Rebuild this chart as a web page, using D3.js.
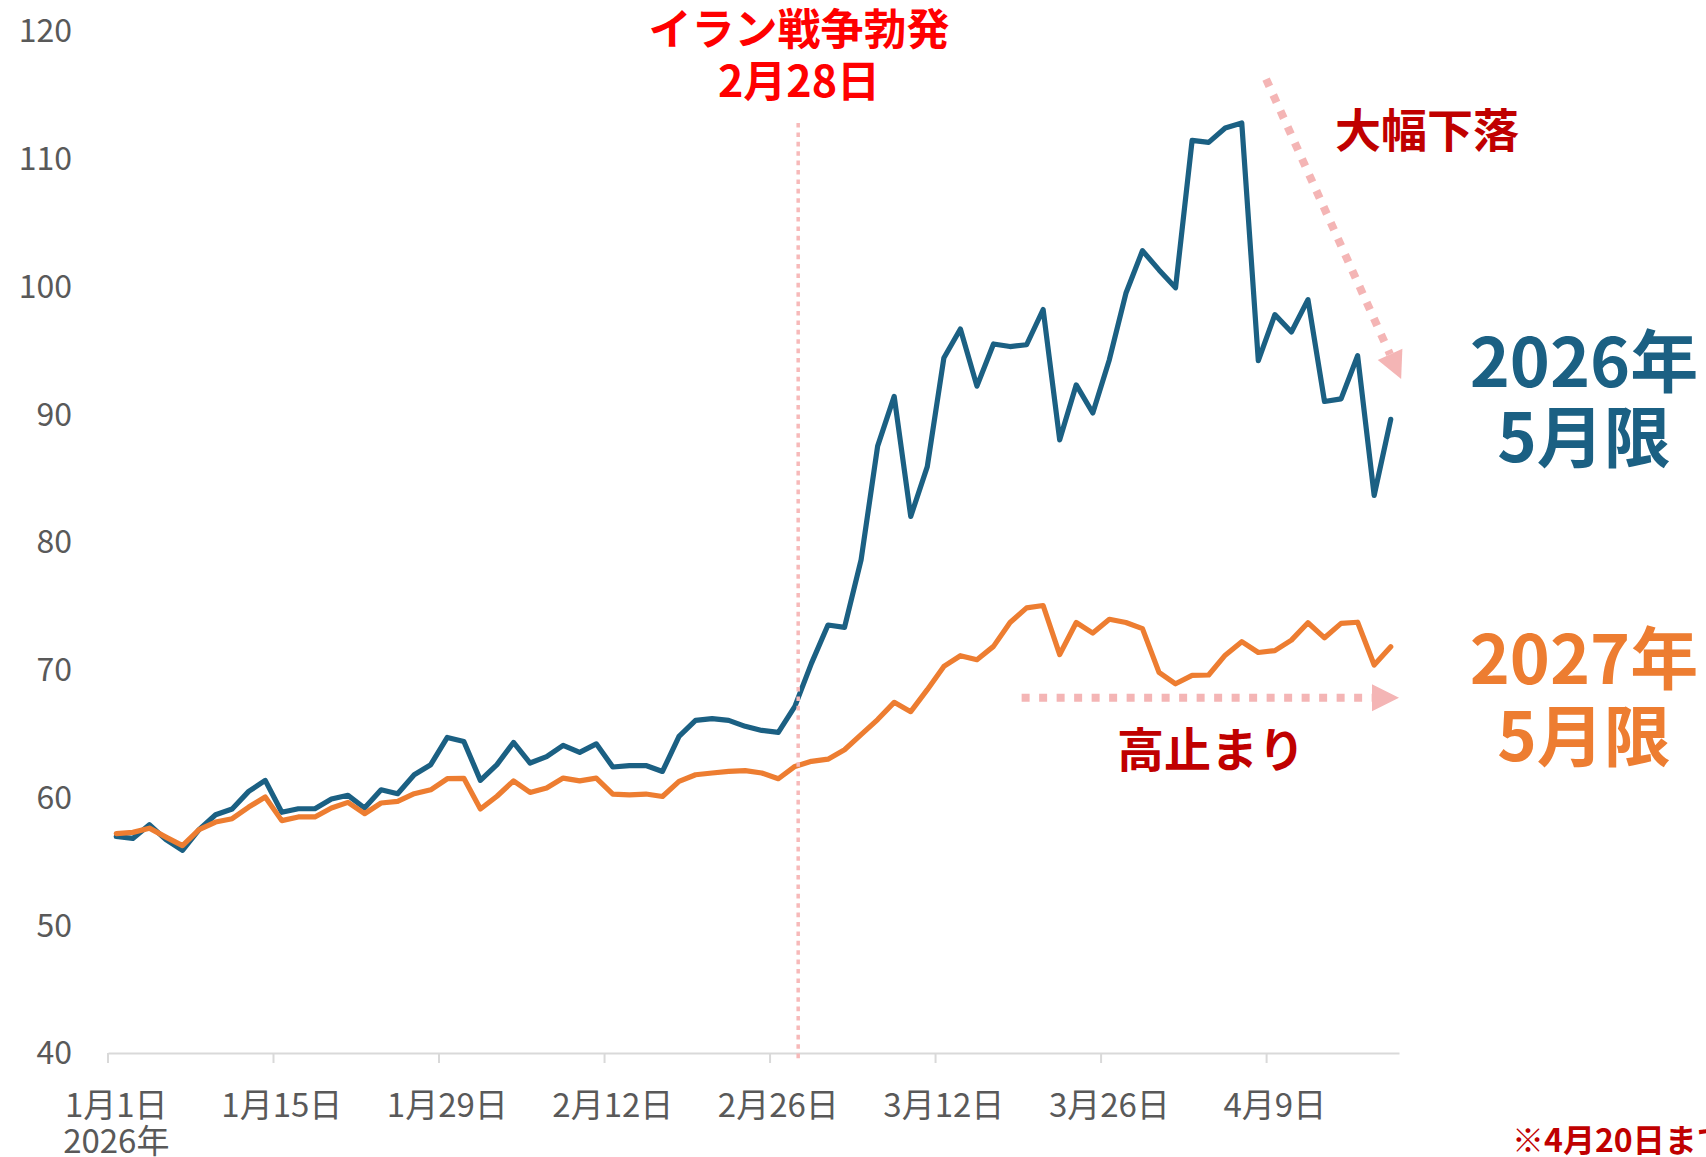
<!DOCTYPE html>
<html>
	<head>
		<meta charset="utf-8"/>
		<script src="https://d3js.org/d3.v7.min.js"></script>
		<style>
			body {
				margin: 0;
				background: #fff;
			}
			svg text {
				font-family: 'Noto Sans CJK JP', 'Noto Sans', sans-serif;
			}
			.tick text {
				fill: #595959;
			}
			.note {
				font-weight: bold;
			}
		</style>
	</head>
	<body>
		<div id="graph"></div>
		<script>
			// one value per weekday, 1/1 .. 4/20 (category axis, labels every 10 days)
			var tickIdx = [0, 10, 20, 30, 40, 50, 60, 70];
			var tickLabels = ['1月1日', '1月15日', '1月29日', '2月12日', '2月26日', '3月12日', '3月26日', '4月9日'];
			var yTicks = [40, 50, 60, 70, 80, 90, 100, 110, 120];

			// 2026年5月限
			var may2026 = [56.95, 56.8, 57.87, 56.7, 55.86, 57.48, 58.65, 59.1, 60.48, 61.34,
				58.84, 59.12, 59.12, 59.88, 60.17, 59.18, 60.6, 60.3, 61.78, 62.57,
				64.7, 64.39, 61.34, 62.57, 64.31, 62.7, 63.2, 64.08, 63.53, 64.2,
				62.39, 62.5, 62.5, 62.04, 64.78, 66.04, 66.17, 66.04, 65.57, 65.25,
				65.1, 67.13, 70.5, 73.5, 73.32, 78.6, 87.5, 91.4, 82.0, 85.9,
				94.4, 96.67, 92.2, 95.5, 95.3, 95.44, 98.2, 88.0, 92.3, 90.1,
				94.27, 99.47, 102.8, 101.3, 99.9, 111.44, 111.28, 112.4, 112.8, 94.19,
				97.8, 96.44, 98.97, 91.0, 91.2, 94.58, 83.65, 89.6];
			// 2027年5月限
			var may2027 = [57.17, 57.27, 57.6, 56.9, 56.23, 57.48, 58.08, 58.34, 59.25, 60.04,
				58.19, 58.48, 58.48, 59.18, 59.62, 58.73, 59.57, 59.7, 60.3, 60.6,
				61.47, 61.5, 59.1, 60.1, 61.3, 60.4, 60.74, 61.52, 61.3, 61.52,
				60.27, 60.2, 60.27, 60.08, 61.26, 61.78, 61.92, 62.04, 62.1, 61.92,
				61.47, 62.43, 62.83, 63.0, 63.74, 64.92, 66.1, 67.45, 66.72, 68.44,
				70.26, 71.1, 70.79, 71.83, 73.7, 74.84, 75.03, 71.19, 73.7, 72.87,
				73.95, 73.7, 73.22, 69.8, 68.9, 69.56, 69.59, 71.14, 72.2, 71.35,
				71.5, 72.32, 73.68, 72.5, 73.63, 73.72, 70.37, 71.8];

			var blue = '#1b6083', orange = '#ed7d31', pink = '#f4b5b5', darkred = '#c00000';
			var W = 1706, H = 1157;

			var svg = d3.select('#graph').append('svg')
				.attr('width', W)
				.attr('height', H);
			svg.append('rect').attr('width', W).attr('height', H).attr('fill', '#fff');

			var x = d3.scaleBand().domain(d3.range(may2026.length)).range([108, 1399]);
			var bw = x.bandwidth();
			// same axis in "category units", for the annotations
			var xu = d3.scaleLinear().domain([0, may2026.length]).range([108, 1399]);
			var y = d3.scaleLinear().domain([40, 120]).range([1053, 31]);

			// y axis: labels only
			svg.append('g')
				.attr('transform', 'translate(72,0)')
				.call(d3.axisLeft(y).tickValues(yTicks).tickSize(0).tickPadding(0))
				.call(g => g.select('.domain').remove())
				.selectAll('text')
					.attr('font-size', 32)
					.attr('dy', '0.34em');

			// x axis: tick marks on category borders, labels on category centres
			var gx = svg.append('g')
				.attr('transform', 'translate(0,' + y(40) + ')')
				.call(d3.axisBottom(x).tickValues(tickIdx).tickFormat((d, k) => tickLabels[k])
					.tickSize(10).tickSizeOuter(0).tickPadding(0));
			gx.select('.domain').attr('stroke', '#d9d9d9').attr('stroke-width', 2);
			gx.selectAll('.tick line')
				.attr('stroke', '#d9d9d9')
				.attr('stroke-width', 2)
				.attr('transform', 'translate(' + (-bw / 2) + ',0)');
			gx.selectAll('.tick text')
				.attr('font-size', 33)
				.attr('y', 64)
				.attr('dy', null);
			d3.select(gx.selectAll('.tick').nodes()[0]).append('text')
				.attr('font-size', 33)
				.attr('y', 100)
				.text('2026年');

			var line = d3.line()
				.x((d, i) => x(i) + bw / 2)
				.y(d => y(d));
			[[may2026, blue], [may2027, orange]].forEach(function([data, color]) {
				svg.append('path')
					.datum(data)
					.attr('d', line)
					.attr('fill', 'none')
					.attr('stroke', color)
					.attr('stroke-width', 5.2)
					.attr('stroke-linejoin', 'round')
					.attr('stroke-linecap', 'round');
			});

			// 2/28 marker
			svg.append('line')
				.attr('x1', xu(41.7)).attr('x2', xu(41.7))
				.attr('y1', y(112.8)).attr('y2', y(40) + 10)
				.attr('stroke', '#f7b9b9')
				.attr('stroke-width', 3.5)
				.attr('stroke-dasharray', '4.6 4.8');

			function arrow(from, to) {
				var p0 = [xu(from[0]), y(from[1])], p1 = [xu(to[0]), y(to[1])];
				var dx = p1[0] - p0[0], dy = p1[1] - p0[1], len = Math.sqrt(dx * dx + dy * dy);
				var u = [dx / len, dy / len], n = [-u[1], u[0]];
				var L = 27, hw = 13.5;
				var base = [p1[0] - L * u[0], p1[1] - L * u[1]];
				svg.append('line')
					.attr('x1', p0[0]).attr('y1', p0[1])
					.attr('x2', base[0]).attr('y2', base[1])
					.attr('stroke', pink)
					.attr('stroke-width', 8)
					.attr('stroke-dasharray', '8 9.5');
				svg.append('polygon')
					.attr('points', [
						[base[0] + hw * n[0], base[1] + hw * n[1]],
						p1,
						[base[0] - hw * n[0], base[1] - hw * n[1]]
					].map(p => p.join(',')).join(' '))
					.attr('fill', pink);
			}
			arrow([69.97, 116.24], [78.13, 92.76]);
			arrow([55.2, 67.8], [78.0, 67.8]);

			function note(txt, px, py, size, color, anchor) {
				svg.append('text')
					.attr('class', 'note')
					.attr('x', px)
					.attr('y', py)
					.attr('font-size', size)
					.attr('fill', color)
					.attr('text-anchor', anchor || 'middle')
					.text(txt);
			}
			note('イラン戦争勃発', 799, 45, 43, '#ff0000');
			note('2月28日', 799, 97, 43, '#ff0000');
			note('大幅下落', 1427, 147, 46, darkred);
			note('高止まり', 1211, 767, 47, darkred);
			note('2026年', 1584, 387, 68, blue);
			note('5月限', 1584, 462, 67, blue);
			note('2027年', 1584, 684, 68, orange);
			note('5月限', 1584, 761, 67, orange);
			note('※4月20日まで', 1512, 1152, 32, darkred, 'start');
		</script>
	</body>
</html>
